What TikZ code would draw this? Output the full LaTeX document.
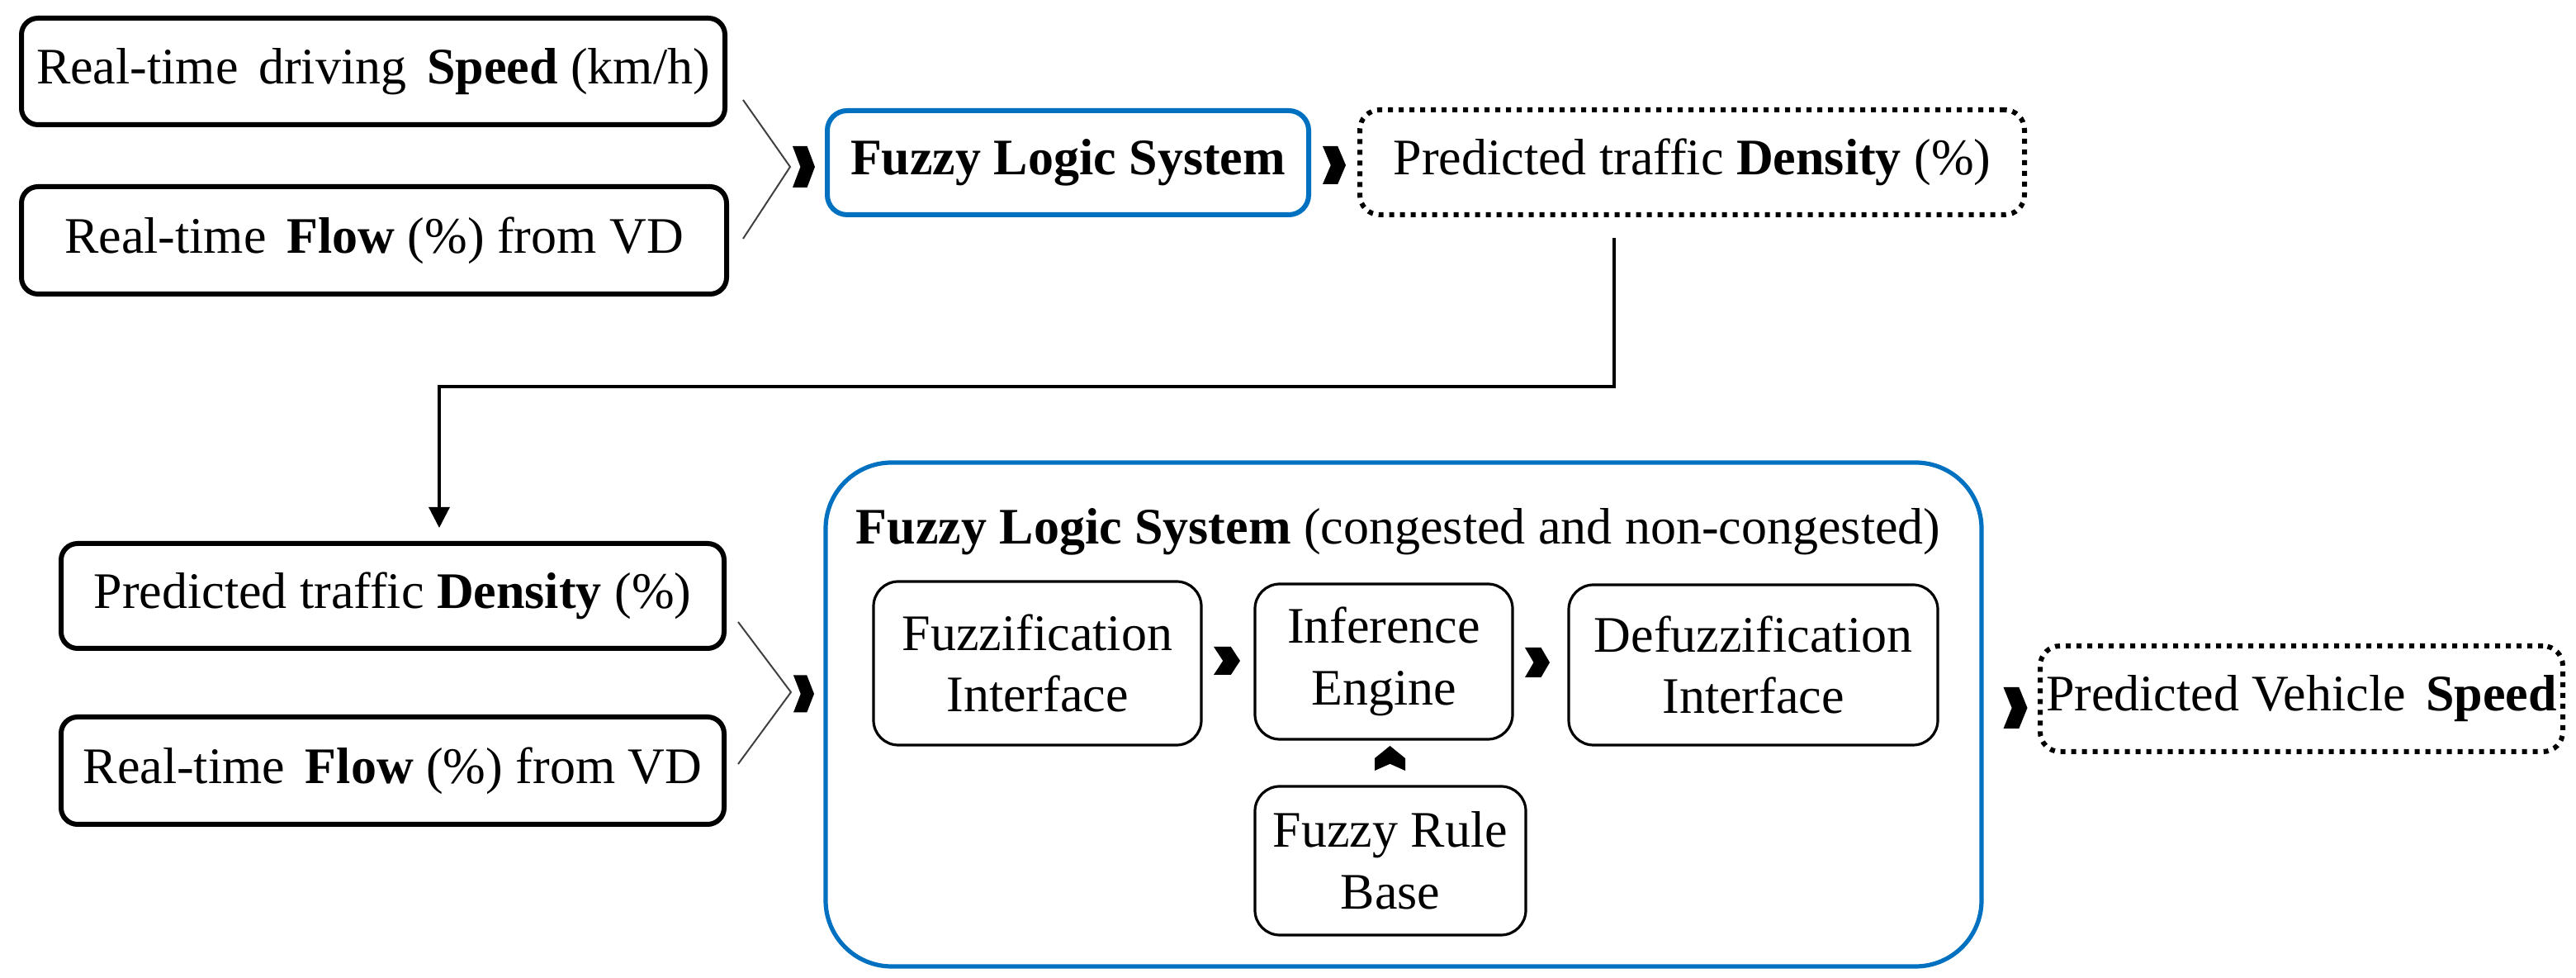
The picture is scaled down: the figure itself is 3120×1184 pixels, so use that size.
\documentclass[tikz,border=0pt]{standalone}
\usepackage{fontspec}
\setmainfont{Liberation Serif}
\usetikzlibrary{calc,arrows.meta}
\definecolor{fblue}{HTML}{0070C0}
\tikzset{
  pics/chevR/.style 2 args={code={\fill[black] (-#1,-#2) -- (0.3*#1,-#2) -- (#1,0) -- (0.3*#1,#2) -- (-#1,#2) -- (-0.3*#1,0) -- cycle;}},
  pics/chevU/.style 2 args={code={\fill[black] (-#1,#2) -- (-#1,0) -- (0,-#2) -- (#1,0) -- (#1,#2) -- (0,0.45*#2) -- cycle;}},
  txt/.style={font=\fontsize{15.5}{18.7}\selectfont, align=center, inner sep=0pt},
  inbox/.style={txt, draw=black, line width=1.5pt, rounded corners=5pt},
  bluebox/.style={txt, draw=fblue, line width=1.5pt, rounded corners=6pt},
  dotbox/.style={txt, draw=black, line width=1.5pt, dash pattern=on 1.5pt off 1.75pt, rounded corners=6pt},
  subbox/.style={txt, draw=black, line width=0.8pt, rounded corners=7.5pt},
  bigbox/.style={draw=fblue, line width=1.3pt, rounded corners=20pt, inner sep=0pt},
  thinline/.style={draw=black!75, line width=0.5pt},
  flowline/.style={draw=black, line width=0.8pt}
}
\begin{document}
\begin{tikzpicture}[x=0.25pt,y=-0.25pt]
\useasboundingbox (0,0) rectangle (3120,1184);
% top row
\node[inbox, minimum width=213pt, minimum height=32.25pt] (spd) at (452,86.5)
  {Real-time\hspace{.4em}driving\hspace{.4em}\textbf{Speed} (km/h)};
\node[inbox, minimum width=213.5pt, minimum height=32.5pt] (flw) at (453,291)
  {Real-time\hspace{.4em}\textbf{Flow} (\%) from VD};
\coordinate (m1) at (957,202);
\draw[thinline] ($(spd.south east)+(19,-33)$) -- (m1) -- ($(flw.east)+(17,-2)$);
\pic at (973.5,202) {chevR={13.5}{25}};
\node[bluebox, minimum width=145.75pt, minimum height=31.5pt] (fls) at (1293.5,197)
  {\textbf{Fuzzy Logic System}};
\pic at (1616,200) {chevR={14}{23}};
\node[dotbox, minimum width=201.25pt, minimum height=31.75pt] (pd) at (2049.5,196.5)
  {Predicted traffic \textbf{Density} (\%)};
% elbow connector
\coordinate (e0) at (1955,288);
\coordinate (e1) at (532,468);
% bottom left
\node[inbox, minimum width=200.75pt, minimum height=31.75pt] (pt3) at (475.5,721.5)
  {Predicted traffic \textbf{Density} (\%)};
\node[inbox, minimum width=200.75pt, minimum height=32.5pt] (fl2) at (475.5,933)
  {Real-time\hspace{.4em}\textbf{Flow} (\%) from VD};
\draw[flowline, -{Triangle[width=6.25pt,length=6.25pt]}, shorten >=4pt]
  (e0) |- (e1) -- (e1 |- pt3.north);
\coordinate (m2) at (958,838);
\draw[thinline] ($(pt3.east)+(14,31.5)$) -- (m2) -- ($(fl2.east)+(14,-8)$);
\pic at (973.5,840) {chevR={12.5}{22.5}};
% big system box
\node[bigbox, minimum width=350pt, minimum height=152.5pt] (big) at (1700,865) {};
\node[txt, anchor=base west] (ttl) at (1036,659)
  {\textbf{Fuzzy Logic System} (congested and non-congested)};
\node[subbox, minimum width=99.25pt, minimum height=49.5pt] (fz) at (1256.5,803)
  {Fuzzification\\Interface};
\node[subbox, minimum width=78pt, minimum height=47pt] (inf) at (1676,801)
  {Inference\\Engine};
\node[subbox, minimum width=111.75pt, minimum height=48.5pt] (dfz) at (2123.5,805)
  {Defuzzification\\Interface};
\node[subbox, minimum width=82pt, minimum height=45pt] (rb) at (1684,1042)
  {Fuzzy Rule\\Base};
\pic at (1486,800) {chevR={16}{17}};
\pic at (1862,802) {chevR={15}{18}};
\pic at (1683.5,918) {chevU={18.5}{15}};
% output
\pic at (2441,857) {chevR={14.5}{25}};
\node[dotbox, minimum width=158.25pt, minimum height=32pt] (pvs) at (2787.5,846)
  {Predicted Vehicle\hspace{.4em}\textbf{Speed}};
\end{tikzpicture}
\end{document}
